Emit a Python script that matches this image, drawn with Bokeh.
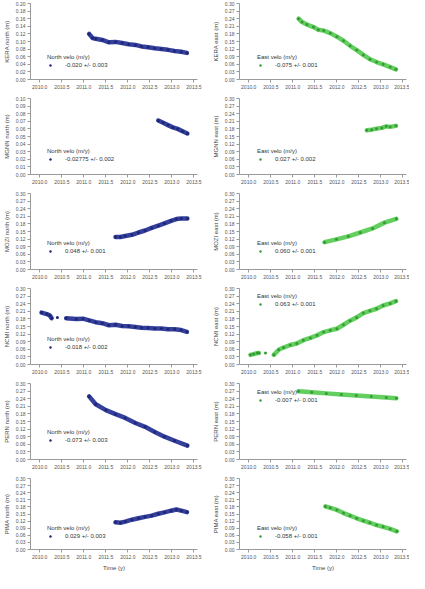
from bokeh.plotting import figure
from bokeh.layouts import gridplot
from bokeh.models import Range1d, FixedTicker, Legend, LegendItem, NumeralTickFormatter
from bokeh.embed import file_html
from bokeh.resources import INLINE

nan = float("nan")

# ---------------- data ----------------
X_TICKS = [2010.0, 2010.5, 2011.0, 2011.5, 2012.0, 2012.5, 2013.0, 2013.5]
Y_TICKS_002 = [0.00, 0.02, 0.04, 0.06, 0.08, 0.10, 0.12, 0.14, 0.16, 0.18, 0.20]
Y_TICKS_001 = [0.00, 0.01, 0.02, 0.03, 0.04, 0.05, 0.06, 0.07, 0.08, 0.09, 0.10]
Y_TICKS_003 = [0.00, 0.03, 0.06, 0.09, 0.12, 0.15, 0.18, 0.21, 0.24, 0.27, 0.30]

stations = ["KERA", "MGNN", "MOZI", "NCMI", "PERN", "PIMA"]
north_rates = ["-0.020 +/- 0.003", "-0.02775 +/- 0.002", "0.048 +/- 0.001",
               "-0.018 +/- 0.002", "-0.073 +/- 0.003", "0.029 +/- 0.003"]
east_rates = ["-0.075 +/- 0.001", "0.027 +/- 0.002", "0.060 +/- 0.001",
              "0.063 +/- 0.001", "-0.007 +/- 0.001", "-0.058 +/- 0.001"]

kera_n_t = [2011.12, 2011.20, 2011.27, 2011.42, 2011.57, 2011.72, 2011.87, 2012.02, 2012.17,
            2012.31, 2012.46, 2012.61, 2012.76, 2012.91, 2013.06, 2013.21, 2013.34]
kera_n_v = [0.120, 0.109, 0.107, 0.104, 0.098, 0.099, 0.096, 0.093, 0.091,
            0.087, 0.085, 0.082, 0.080, 0.078, 0.075, 0.073, 0.070]
kera_e_t = [2011.13, 2011.21, 2011.32, 2011.47, 2011.58, 2011.70, 2011.85, 2012.00, 2012.15,
            2012.30, 2012.45, 2012.60, 2012.75, 2012.90, 2013.05, 2013.21, 2013.34]
kera_e_v = [0.240, 0.227, 0.217, 0.207, 0.196, 0.193, 0.183, 0.169, 0.153,
            0.133, 0.116, 0.097, 0.080, 0.069, 0.060, 0.049, 0.040]

mgnn_n_t = [2012.69, 2012.80, 2012.91, 2013.02, 2013.13, 2013.24, 2013.35]
mgnn_n_v = [0.071, 0.068, 0.065, 0.062, 0.060, 0.057, 0.054]
mgnn_e_t = [2012.68, 2012.79, 2012.90, 2013.02, 2013.12, 2013.21, 2013.34]
mgnn_e_v = [0.175, 0.177, 0.181, 0.184, 0.190, 0.188, 0.192]

mozi_n_t = [2011.72, 2011.83, 2011.94, 2012.09, 2012.24, 2012.39, 2012.54, 2012.69, 2012.83,
            2012.98, 2013.10, 2013.21, 2013.35]
mozi_n_v = [0.128, 0.128, 0.132, 0.137, 0.146, 0.154, 0.164, 0.173, 0.182,
            0.192, 0.199, 0.201, 0.201]
mozi_e_t = [2011.72, 2011.99, 2012.26, 2012.53, 2012.81, 2013.08, 2013.35]
mozi_e_v = [0.108, 0.119, 0.131, 0.146, 0.162, 0.185, 0.200]

ncmi_n_t = [2010.04, 2010.16, 2010.23, 2010.27, nan, 2010.40, nan,
            2010.60, 2010.83, 2010.98, 2011.12, 2011.27, 2011.42, 2011.57, 2011.72, 2011.87,
            2012.02, 2012.17, 2012.31, 2012.46, 2012.61, 2012.76, 2012.91, 2013.06, 2013.21, 2013.34]
ncmi_n_v = [0.205, 0.199, 0.193, 0.183, nan, 0.186, nan,
            0.183, 0.180, 0.181, 0.174, 0.167, 0.163, 0.155, 0.157, 0.152,
            0.151, 0.148, 0.145, 0.144, 0.142, 0.142, 0.139, 0.139, 0.136, 0.129]
ncmi_e_t = [2010.04, 2010.11, 2010.19, 2010.23, nan, 2010.38, nan,
            2010.57, 2010.68, 2010.79, 2010.94, 2011.09, 2011.24, 2011.40, 2011.55, 2011.70,
            2011.85, 2012.00, 2012.15, 2012.30, 2012.45, 2012.60, 2012.75, 2012.90, 2013.05,
            2013.21, 2013.34]
ncmi_e_v = [0.038, 0.041, 0.045, 0.045, nan, 0.045, nan,
            0.038, 0.058, 0.067, 0.077, 0.083, 0.096, 0.105, 0.115, 0.128,
            0.135, 0.141, 0.157, 0.173, 0.186, 0.203, 0.212, 0.220, 0.233,
            0.241, 0.250]

pern_n_t = [2011.12, 2011.27, 2011.50, 2011.72, 2011.94, 2012.17, 2012.39, 2012.61, 2012.83,
            2013.06, 2013.35]
pern_n_v = [0.249, 0.218, 0.195, 0.179, 0.164, 0.144, 0.129, 0.109, 0.090, 0.074, 0.055]
pern_e_t = [2011.13, 2011.43, 2011.76, 2012.10, 2012.44, 2012.78, 2013.12, 2013.35]
pern_e_v = [0.269, 0.265, 0.261, 0.257, 0.253, 0.249, 0.245, 0.242]

pima_n_t = [2011.72, 2011.83, 2011.94, 2012.09, 2012.24, 2012.39, 2012.54, 2012.69, 2012.83,
            2012.98, 2013.10, 2013.21, 2013.34]
pima_n_v = [0.115, 0.113, 0.118, 0.126, 0.132, 0.138, 0.143, 0.151, 0.157,
            0.164, 0.169, 0.164, 0.158]
pima_e_t = [2011.74, 2011.85, 2012.00, 2012.15, 2012.30, 2012.45, 2012.60, 2012.75, 2012.90,
            2013.05, 2013.21, 2013.36]
pima_e_v = [0.182, 0.176, 0.167, 0.154, 0.143, 0.132, 0.122, 0.113, 0.103, 0.096, 0.087, 0.077]

north_series = [(kera_n_t, kera_n_v, Y_TICKS_002), (mgnn_n_t, mgnn_n_v, Y_TICKS_001),
                (mozi_n_t, mozi_n_v, Y_TICKS_003), (ncmi_n_t, ncmi_n_v, Y_TICKS_003),
                (pern_n_t, pern_n_v, Y_TICKS_003), (pima_n_t, pima_n_v, Y_TICKS_003)]
east_series = [(kera_e_t, kera_e_v, Y_TICKS_003), (mgnn_e_t, mgnn_e_v, Y_TICKS_003),
               (mozi_e_t, mozi_e_v, Y_TICKS_003), (ncmi_e_t, ncmi_e_v, Y_TICKS_003),
               (pern_e_t, pern_e_v, Y_TICKS_003), (pima_e_t, pima_e_v, Y_TICKS_003)]

# legend offsets (px from frame bottom-left)
north_leg = [(17, 11), (17, 12), (17, 15), (17, 14), (17, 16), (17, 10)]
east_leg = [(18, 11), (18, 12), (18, 15), (18, 57), (18, 56), (18, 10)]

# ---------------- styling ----------------
FONT = "Liberation Sans"
BLUE_BAND, BLUE_DOT = "#34409c", "#1e2676"
GREEN_BAND, GREEN_DOT = "#62cf5e", "#379a37"
AXIS_COLOR = "#9a9a9a"


def panel(t, v, yticks, ylabel, title, label, band, dot, col, last, leg_xy):
    w = 208 if col == 0 else 201
    h = 98 if last else 95
    p = figure(width=w, height=h, output_backend="svg", toolbar_location=None,
               x_range=Range1d(2009.79, 2013.58),
               y_range=Range1d(yticks[0], yticks[-1]),
               min_border_left=26 if col == 0 else 31,
               min_border_right=11 if col == 0 else 3,
               min_border_top=3, min_border_bottom=19 if last else 16)
    p.outline_line_color = None
    p.xgrid.visible = False
    p.ygrid.visible = False
    p.background_fill_color = "white"

    p.line(t, v, line_color=band, line_width=4.5, line_join="round", line_cap="round")
    r = p.scatter(t, v, size=3, fill_color=dot, line_color=None)

    p.xaxis.ticker = FixedTicker(ticks=X_TICKS)
    p.xaxis.formatter = NumeralTickFormatter(format="0.0")
    p.yaxis.ticker = FixedTicker(ticks=yticks)
    p.yaxis.formatter = NumeralTickFormatter(format="0.00")
    for ax in (p.xaxis, p.yaxis):
        ax.axis_line_color = AXIS_COLOR
        ax.major_tick_line_color = AXIS_COLOR
        ax.minor_tick_line_color = None
        ax.major_tick_in = 0
        ax.major_tick_out = 3
        ax.major_label_text_font = FONT
        ax.major_label_text_font_size = "5px"
        ax.major_label_text_color = "#555555"
        ax.major_label_standoff = 2
        ax.axis_label_text_font = FONT
        ax.axis_label_text_font_size = "6px"
        ax.axis_label_text_font_style = "normal"
        ax.axis_label_text_color = "#444444"
        ax.axis_label_standoff = 3
    p.yaxis.axis_label = ylabel
    if last:
        p.xaxis.axis_label = "Time (y)"

    leg = Legend(items=[LegendItem(label=label, renderers=[r])], title=title,
                 location=leg_xy, orientation="vertical")
    leg.background_fill_alpha = 0
    leg.border_line_color = None
    leg.padding = 0
    leg.margin = 0
    leg.spacing = 0
    leg.label_height = 6
    leg.glyph_height = 6
    leg.glyph_width = 6
    leg.label_standoff = 12
    leg.label_text_font = FONT
    leg.label_text_font_size = "6px"
    leg.label_text_color = "#333333"
    leg.title_text_font = FONT
    leg.title_text_font_size = "6px"
    leg.title_text_font_style = "normal"
    leg.title_text_color = "#333333"
    leg.title_standoff = 2
    p.add_layout(leg)
    return p


rows = []
for i, st in enumerate(stations):
    last = i == len(stations) - 1
    nt, nv, nticks = north_series[i]
    et, ev, eticks = east_series[i]
    pn = panel(nt, nv, nticks, st + " north (m)", "North velo (m/y)", north_rates[i],
               BLUE_BAND, BLUE_DOT, 0, last, north_leg[i])
    pe = panel(et, ev, eticks, st + " east (m)", "East velo (m/y)", east_rates[i],
               GREEN_BAND, GREEN_DOT, 1, last, east_leg[i])
    rows.append([pn, pe])

grid = gridplot(rows, toolbar_location=None)
open("out.html", "w").write(file_html(grid, INLINE))
